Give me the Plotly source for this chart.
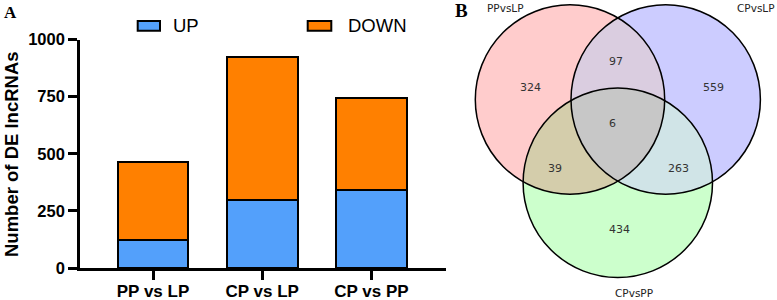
import numpy as np
import plotly.graph_objects as go

# ---------------- data ----------------
categories = ["PP vs LP", "CP vs LP", "CP vs PP"]
up_counts = [124, 299, 340]
down_counts = [342, 626, 402]
series_names = ["UP", "DOWN"]
y_tick_values = [0, 250, 500, 750, 1000]

venn_set_names = ["PPvsLP", "CPvsLP", "CPvsPP"]
venn_region_keys = ["100", "010", "001", "110", "101", "011", "111"]
venn_region_counts = [324, 559, 434, 97, 39, 263, 6]

# ---------------- layout geometry (pixels) ----------------
W, H = 777, 300
PL, PR, PT, PB = 80.2, 446.0, 39.5, 268.0
STEP, C0 = 109.25, 153.0

BLUE = "#53A0FB"
ORANGE = "#FF8000"
FONT = "Arial, 'Liberation Sans', sans-serif"


def px(x):
    return x / W


def py(y):
    return 1 - y / H


fig = go.Figure()
fig.add_trace(go.Bar(x=categories, y=up_counts, name=series_names[0], width=0.647,
                     marker=dict(color=BLUE, line=dict(color="black", width=2)),
                     showlegend=False))
fig.add_trace(go.Bar(x=categories, y=down_counts, name=series_names[1], width=0.647,
                     marker=dict(color=ORANGE, line=dict(color="black", width=2)),
                     showlegend=False))

shapes = []
annotations = []

# legend (drawn manually to match swatch shape)
for (x0, x1, col, lbl, tx) in [(137.7, 160.0, BLUE, series_names[0], 171.0),
                               (307.7, 331.3, ORANGE, series_names[1], 345.5)]:
    shapes.append(dict(type="rect", xref="paper", yref="paper",
                       x0=px(x0), x1=px(x1), y0=py(30.7), y1=py(21.0),
                       fillcolor=col, line=dict(color="black", width=2)))
    annotations.append(dict(x=px(tx), y=py(25.8), xref="paper", yref="paper",
                            text=lbl, showarrow=False, xanchor="left", yanchor="middle",
                            font=dict(family=FONT, size=18.5, color="black")))

annotations.append(dict(x=px(11), y=py(154), xref="paper", yref="paper",
                        text="Number of DE lncRNAs", textangle=-90, showarrow=False,
                        xanchor="center", yanchor="middle",
                        font=dict(family=FONT, size=18.5, color="black", weight="bold")))
annotations.append(dict(x=px(2), y=py(12), xref="paper", yref="paper", text="A",
                        showarrow=False, xanchor="left", yanchor="middle",
                        font=dict(family="'Liberation Serif', 'Times New Roman', serif",
                                  size=17, color="black", weight="bold")))
annotations.append(dict(x=px(453), y=py(11), xref="paper", yref="paper", text="B",
                        showarrow=False, xanchor="left", yanchor="middle",
                        font=dict(family="'Liberation Serif', 'Times New Roman', serif",
                                  size=19, color="black", weight="bold")))

# ---------------- Venn diagram ----------------
R = 94.7
centers = {"A": np.array([570.0, 99.5]), "B": np.array([665.7, 99.5]),
           "C": np.array([617.8, 182.8])}
single_cols = {"A": "#FFCCCC", "B": "#CCCCFF", "C": "#CCFFCC"}
pair_cols = {("A", "B"): "#DACDE0", ("A", "C"): "#D4CDAB", ("B", "C"): "#D0E4E7"}
triple_col = "#C7C7C7"


def intersections(c1, c2, r=R):
    d = np.linalg.norm(c2 - c1)
    a = d / 2
    h = np.sqrt(r * r - a * a)
    m = c1 + (c2 - c1) * a / d
    perp = np.array([-(c2 - c1)[1], (c2 - c1)[0]]) / d
    return m + h * perp, m - h * perp


def arc(c, p, q, n=48):
    a1 = np.arctan2(*(p - c)[::-1])
    a2 = np.arctan2(*(q - c)[::-1])
    d = (a2 - a1 + np.pi) % (2 * np.pi) - np.pi
    t = a1 + d * np.linspace(0, 1, n)
    return np.column_stack([c[0] + R * np.cos(t), c[1] + R * np.sin(t)])


def path_from(points):
    return "M " + " L ".join(f"{x:.2f},{y:.2f}" for x, y in points) + " Z"


for k, c in centers.items():
    shapes.append(dict(type="circle", xref="x2", yref="y2", x0=c[0] - R, x1=c[0] + R,
                       y0=c[1] - R, y1=c[1] + R, fillcolor=single_cols[k],
                       line=dict(width=0)))

for (i, j), col in pair_cols.items():
    p, q = intersections(centers[i], centers[j])
    pts = np.vstack([arc(centers[i], p, q), arc(centers[j], q, p)])
    shapes.append(dict(type="path", xref="x2", yref="y2", path=path_from(pts),
                       fillcolor=col, line=dict(width=0)))


def inner_point(i, j, k):
    p, q = intersections(centers[i], centers[j])
    return p if np.linalg.norm(p - centers[k]) < np.linalg.norm(q - centers[k]) else q


qab = inner_point("A", "B", "C")
qac = inner_point("A", "C", "B")
qbc = inner_point("B", "C", "A")
tri = np.vstack([arc(centers["A"], qab, qac), arc(centers["C"], qac, qbc),
                 arc(centers["B"], qbc, qab)])
shapes.append(dict(type="path", xref="x2", yref="y2", path=path_from(tri),
                   fillcolor=triple_col, line=dict(width=0)))

for k, c in centers.items():
    shapes.append(dict(type="circle", xref="x2", yref="y2", x0=c[0] - R, x1=c[0] + R,
                       y0=c[1] - R, y1=c[1] + R, fillcolor="rgba(0,0,0,0)",
                       line=dict(color="black", width=1.5)))

region_pos = {"100": (530, 87), "010": (713, 87), "001": (619, 229), "110": (615.7, 61),
              "101": (554.5, 168), "011": (678, 168), "111": (612.7, 123)}
for key, cnt in zip(venn_region_keys, venn_region_counts):
    x, y = region_pos[key]
    annotations.append(dict(x=x, y=y, xref="x2", yref="y2", text=str(cnt), showarrow=False,
                            font=dict(family="DejaVu Sans", size=11, color="#333333")))

set_label_pos = [(505.5, 7.5), (756, 7.5), (634, 293)]
for name, (x, y) in zip(venn_set_names, set_label_pos):
    annotations.append(dict(x=x, y=y, xref="x2", yref="y2", text=name, showarrow=False,
                            font=dict(family="DejaVu Sans", size=10.5, color="#222222")))

fig.update_layout(
    width=W, height=H, margin=dict(l=0, r=0, t=0, b=0, pad=0), autosize=False,
    paper_bgcolor="white", plot_bgcolor="white", barmode="stack", bargap=0,
    showlegend=False, shapes=shapes, annotations=annotations,
    xaxis=dict(domain=[px(PL), px(PR)], range=[-(C0 - PL) / STEP, (PR - C0) / STEP],
               type="category", showline=True, linecolor="black", linewidth=3,
               ticks="outside", ticklen=9, tickwidth=3, tickcolor="black",
               showgrid=False, zeroline=False, anchor="y", automargin=False,
               ticklabelstandoff=-3,
               tickfont=dict(family=FONT, size=17, color="black", weight="bold")),
    yaxis=dict(domain=[py(PB), py(PT)], range=[0, 1000], tickvals=y_tick_values,
               showline=True, linecolor="black", linewidth=3,
               ticks="outside", ticklen=9, tickwidth=3, tickcolor="black",
               showgrid=False, zeroline=False, anchor="x", automargin=False,
               tickfont=dict(family=FONT, size=16.5, color="black", weight="bold")),
    xaxis2=dict(domain=[px(446), 1], range=[446, 777], visible=False, anchor="y2",
                automargin=False),
    yaxis2=dict(domain=[0, 1], range=[300, 0], visible=False, anchor="x2",
                automargin=False),
)

fig.write_html("out.html",
               config={"displayModeBar": False, "staticPlot": True},
               post_script="document.body.style.margin='0px';"
                           "document.body.style.overflow='hidden';")
